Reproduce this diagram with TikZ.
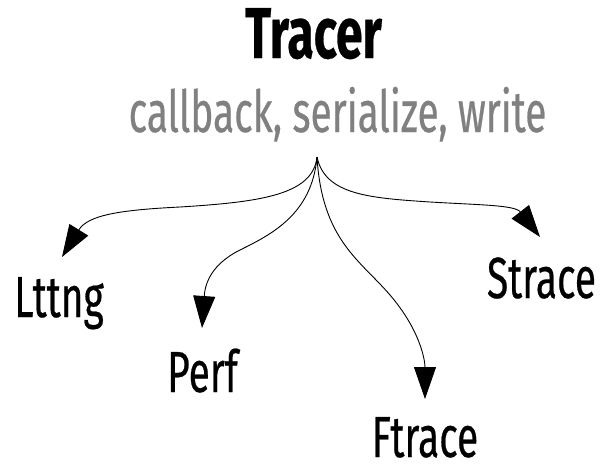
\documentclass[tikz,border=0pt]{standalone}
\usepackage{fontspec}
\setmainfont{Fira Sans}[FakeStretch=0.67, FakeBold=0.4]
\usetikzlibrary{arrows.meta}
\definecolor{subgray}{rgb}{0.5,0.5,0.5}
\tikzset{
  lbl/.style={anchor=base, inner sep=0pt, font=\fontsize{58}{62}\selectfont},
  flow/.style={line width=0.9pt, -{Triangle[length=32pt,width=22pt]}}
}

\begin{document}
\begin{tikzpicture}[x=1pt,y=-1pt]
\useasboundingbox (0,0) rectangle (603,471);
% title and its subtitle
\node[anchor=base, inner sep=0pt, font=\fontsize{72}{76}\selectfont\bfseries] (title) at (313.5,58) {Tracer};
\node[anchor=base, inner sep=0pt, text=subgray, font=\fontsize{58}{62}\selectfont] (sub) at (337.5,132) {callback, serialize, write};
% the tracers
\node[lbl] (lttng) at (59,317) {Lttng};
\node[lbl] (perf) at (202.5,392) {Perf};
\node[lbl] (strace) at (541.5,298) {Strace};
\node[lbl] (ftrace) at (425,457) {Ftrace};
% branch point and arrow tips
\coordinate (hub) at (317,157);
\coordinate (lttng-in) at (62,257);
\coordinate (perf-in) at (202,328);
\coordinate (ftrace-in) at (425,399);
\coordinate (strace-in) at (540,237);
\draw[flow] (hub) .. controls (313,195) and (260,202) .. (180,207) .. controls (120,210) and (88,215) .. (lttng-in);
\draw[flow] (hub) .. controls (312,215) and (270,235) .. (240,250) .. controls (210,265) and (205,285) .. (perf-in);
\draw[flow] (hub) .. controls (322,240) and (360,260) .. (390,295) .. controls (420,330) and (425,360) .. (ftrace-in);
\draw[flow] (hub) .. controls (325,195) and (370,198) .. (430,202) .. controls (480,205) and (515,205) .. (strace-in);
\end{tikzpicture}
\end{document}
